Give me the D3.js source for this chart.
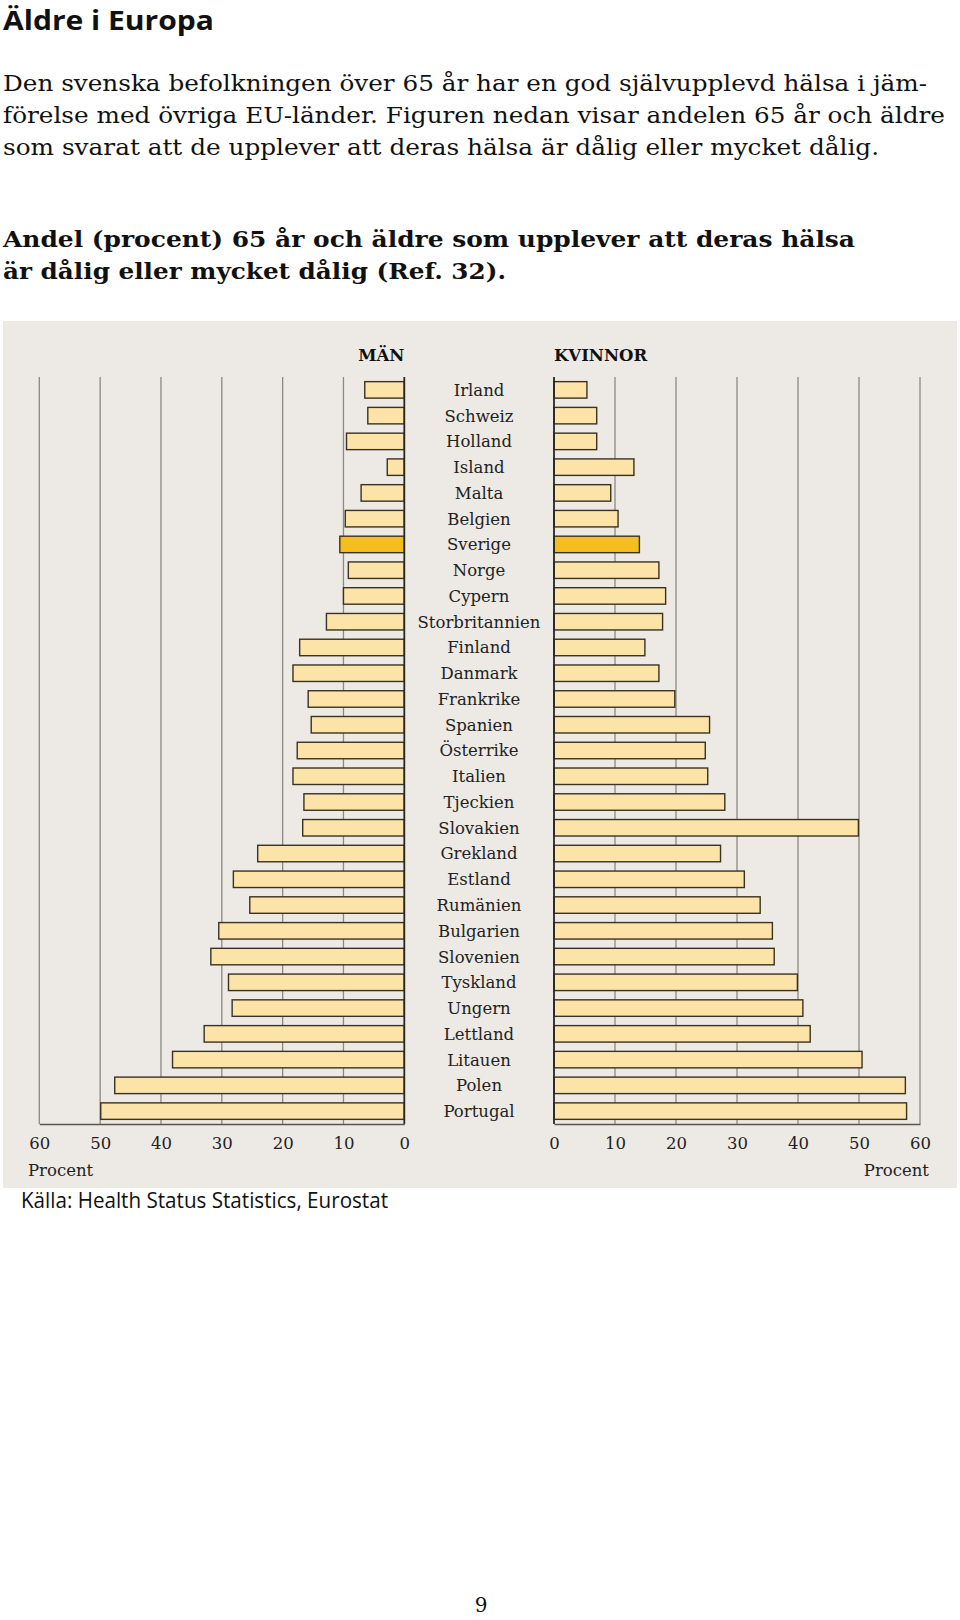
<!DOCTYPE html>
<html>
<head>
<meta charset="utf-8">
<script src="https://cdn.jsdelivr.net/npm/d3@7"></script>
<style>
  html, body { margin: 0; padding: 0; background: #ffffff; }
  svg { display: block; }
</style>
</head>
<body>
<svg id="chart" width="960" height="1620"></svg>
<script>
// ---- Data ----
const countries = ["Irland","Schweiz","Holland","Island","Malta","Belgien","Sverige","Norge","Cypern","Storbritannien","Finland","Danmark","Frankrike","Spanien","Österrike","Italien","Tjeckien","Slovakien","Grekland","Estland","Rumänien","Bulgarien","Slovenien","Tyskland","Ungern","Lettland","Litauen","Polen","Portugal"];
const men   = [6.5, 6.0, 9.5, 2.8, 7.1, 9.7, 10.6, 9.2, 10.0, 12.8, 17.2, 18.3, 15.8, 15.3, 17.6, 18.3, 16.5, 16.7, 24.1, 28.1, 25.4, 30.5, 31.8, 28.9, 28.3, 32.9, 38.1, 47.6, 49.9];
const women = [5.4, 7.0, 7.0, 13.1, 9.3, 10.5, 14.0, 17.2, 18.3, 17.8, 14.9, 17.2, 19.8, 25.5, 24.8, 25.2, 28.0, 49.9, 27.3, 31.2, 33.8, 35.8, 36.1, 39.9, 40.8, 42.0, 50.5, 57.6, 57.8];
const tickValues = [0, 10, 20, 30, 40, 50, 60];
const highlight = "Sverige";

const pageTitle = "Äldre i Europa";
const introLines = [
  "Den svenska befolkningen över 65 år har en god självupplevd hälsa i jäm-",
  "förelse med övriga EU-länder. Figuren nedan visar andelen 65 år och äldre",
  "som svarat att de upplever att deras hälsa är dålig eller mycket dålig."
];
const chartTitleLines = [
  "Andel (procent) 65 år och äldre som upplever att deras hälsa",
  "är dålig eller mycket dålig (Ref. 32)."
];
const menLabel = "MÄN";
const womenLabel = "KVINNOR";
const unitLabel = "Procent";
const sourceText = "Källa: Health Status Statistics, Eurostat";
const pageNumber = "9";

// ---- Layout ----
const svg = d3.select("#chart");
const serif = "'DejaVu Serif', serif";
const plotTop = 377, plotBottom = 1124;

const xL = d3.scaleLinear().domain([0, 60]).range([404.3, 39.3]);
const xR = d3.scaleLinear().domain([0, 60]).range([554, 920]);
const y = d3.scaleBand().domain(countries).range([plotTop, plotBottom]).paddingInner(0.36).paddingOuter(0.18);

// Page texts
svg.append("text").attr("x", 3).attr("y", 30)
  .attr("font-family", "'Open Sans', sans-serif").attr("font-weight", 700)
  .attr("font-size", 26).attr("fill", "#111")
  .attr("textLength", 211).attr("lengthAdjust", "spacingAndGlyphs")
  .text(pageTitle);

const introWidths = [924, 942, 876];
introLines.forEach((t, i) => {
  svg.append("text").attr("x", 3).attr("y", 90.7 + i * 32.2)
    .attr("font-family", serif).attr("font-size", 22).attr("fill", "#111")
    .attr("textLength", introWidths[i]).attr("lengthAdjust", "spacingAndGlyphs")
    .text(t);
});

const titleWidths = [852, 503];
chartTitleLines.forEach((t, i) => {
  svg.append("text").attr("x", 3).attr("y", 246.7 + i * 32.6)
    .attr("font-family", serif).attr("font-weight", "bold").attr("font-size", 22).attr("fill", "#111")
    .attr("textLength", titleWidths[i]).attr("lengthAdjust", "spacingAndGlyphs")
    .text(t);
});

// Chart panel background
svg.append("rect").attr("x", 3).attr("y", 321).attr("width", 954).attr("height", 867).attr("fill", "#EDEAE5");

// Gridlines
const grid = svg.append("g");
[xL, xR].forEach(sc => {
  grid.selectAll(null).data(tickValues.filter(d => d > 0)).enter().append("line")
    .attr("x1", d => sc(d)).attr("x2", d => sc(d))
    .attr("y1", plotTop).attr("y2", plotBottom)
    .attr("stroke", "#8c8882").attr("stroke-width", 1.3);
});

// Bars
function drawBars(sc, values) {
  svg.append("g").selectAll("rect").data(countries).enter().append("rect")
    .attr("x", (d, i) => Math.min(sc(0), sc(values[i])))
    .attr("y", d => y(d))
    .attr("width", (d, i) => Math.abs(sc(values[i]) - sc(0)))
    .attr("height", y.bandwidth())
    .attr("fill", d => d === highlight ? "#F3BE1E" : "#FCE3A8")
    .attr("stroke", "#3a3222").attr("stroke-width", 1.4);
}
drawBars(xL, men);
drawBars(xR, women);

// Zero lines
[xL, xR].forEach(sc => {
  svg.append("line").attr("x1", sc(0)).attr("x2", sc(0))
    .attr("y1", plotTop).attr("y2", plotBottom)
    .attr("stroke", "#2a2620").attr("stroke-width", 1.8);
});

// Axes
function drawAxis(sc) {
  const g = svg.append("g").attr("transform", `translate(0,${plotBottom})`)
    .call(d3.axisBottom(sc).tickValues(tickValues).tickSize(0).tickSizeOuter(0).tickPadding(13.5));
  g.select(".domain").attr("stroke", "#5a564f").attr("stroke-width", 1.6);
  g.selectAll("text").attr("font-family", serif).attr("font-size", 16.5).attr("fill", "#222");
}
drawAxis(xL);
drawAxis(xR);

// Country labels
svg.append("g").selectAll("text").data(countries).enter().append("text")
  .attr("x", 479).attr("y", d => y(d) + y.bandwidth() / 2)
  .attr("dy", "0.36em").attr("text-anchor", "middle")
  .attr("font-family", serif).attr("font-size", 16.5).attr("fill", "#222")
  .text(d => d);

// Panel headers
svg.append("text").attr("x", xL(0)).attr("y", 361).attr("text-anchor", "end")
  .attr("font-family", serif).attr("font-weight", "bold").attr("font-size", 16.5).attr("fill", "#111")
  .text(menLabel);
svg.append("text").attr("x", xR(0)).attr("y", 361).attr("text-anchor", "start")
  .attr("font-family", serif).attr("font-weight", "bold").attr("font-size", 16.5).attr("fill", "#111")
  .text(womenLabel);

// Unit labels
svg.append("text").attr("x", 28).attr("y", 1176)
  .attr("font-family", serif).attr("font-size", 16.5).attr("fill", "#222").text(unitLabel);
svg.append("text").attr("x", 929).attr("y", 1176).attr("text-anchor", "end")
  .attr("font-family", serif).attr("font-size", 16.5).attr("fill", "#222").text(unitLabel);

// Source
svg.append("text").attr("x", 21).attr("y", 1208)
  .attr("font-family", "'Open Sans', sans-serif").attr("font-size", 21).attr("fill", "#111")
  .attr("textLength", 367).attr("lengthAdjust", "spacingAndGlyphs")
  .text(sourceText);

// Page number
svg.append("text").attr("x", 481).attr("y", 1612).attr("text-anchor", "middle")
  .attr("font-family", serif).attr("font-size", 20).attr("fill", "#111").text(pageNumber);
</script>
</body>
</html>
